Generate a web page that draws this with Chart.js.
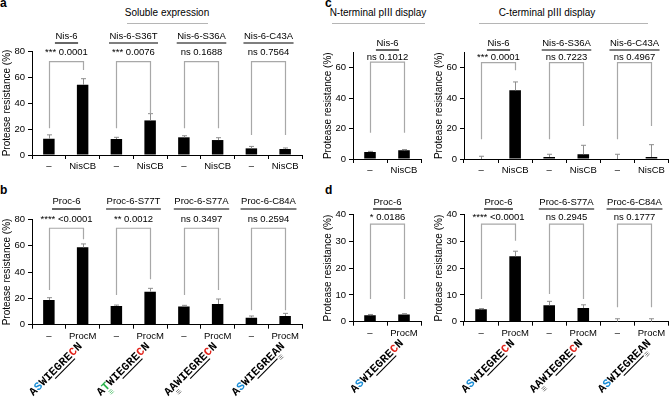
<!DOCTYPE html>
<html><head><meta charset="utf-8">
<script src="https://cdn.jsdelivr.net/npm/chart.js@4"></script>
<style>
html,body{margin:0;padding:0;background:#fff;}
#wrap{position:relative;width:669px;height:397px;overflow:hidden;font-family:"Liberation Sans",Arial,sans-serif;}
canvas{position:absolute;}
.t{position:absolute;white-space:nowrap;color:#000;}
.L{font-weight:bold;font-size:12px;line-height:12px;}
.h{font-size:10px;line-height:10px;text-align:center;width:200px;}
.hl{position:absolute;height:1.5px;background:#b5b5b5;}
</style></head><body>
<div id="wrap">
  <div class="t L" style="left:0px;top:-3px;">a</div>
  <div class="t L" style="left:0px;top:184px;">b</div>
  <div class="t L" style="left:325px;top:-3px;">c</div>
  <div class="t L" style="left:325px;top:184px;">d</div>
  <div class="t h" style="left:67px;top:8px;">Soluble expression</div>
  <div class="hl" style="left:127px;top:22.5px;width:81px;"></div>
  <div class="t h" style="left:278px;top:8px;">N-terminal pIII display</div>
  <div class="hl" style="left:332px;top:22.5px;width:93px;"></div>
  <div class="t h" style="left:447px;top:8px;">C-terminal pIII display</div>
  <div class="hl" style="left:479px;top:22.5px;width:169px;"></div>
  <canvas id="cA" width="312" height="190" style="left:0px;top:0px;"></canvas>
  <canvas id="cB" width="312" height="207" style="left:0px;top:190px;"></canvas>
  <canvas id="cCL" width="104" height="190" style="left:321px;top:0px;"></canvas>
  <canvas id="cCR" width="237" height="190" style="left:432px;top:0px;"></canvas>
  <canvas id="cDL" width="104" height="207" style="left:321px;top:190px;"></canvas>
  <canvas id="cDR" width="237" height="207" style="left:432px;top:190px;"></canvas>
</div>
<script>
// ---------- data ----------
const catsA = ['–','NisCB','–','NisCB','–','NisCB','–','NisCB'];
const valsA = [12.5, 54, 12.3, 26.6, 13.6, 11.5, 5.1, 4.6];
const sdA   = [3, 4.7, 1.3, 5.2, 1.2, 1.8, 1.5, 0.8];
const namesA = ['Nis-6','Nis-6-S36T','Nis-6-S36A','Nis-6-C43A'];
const pvalsA = ['*** 0.0001','*** 0.0076','ns 0.1688','ns 0.7564'];
const bracketTopA = 71.8;
const legsA = [[20.5,65.4],[20.5,32],[20.5,20.5],[15.4,15.4]];

const catsB = ['–','ProcM','–','ProcM','–','ProcM','–','ProcM'];
const valsB = [18.7, 58.7, 14.2, 25.1, 13.9, 15.7, 5.3, 6.6];
const sdB   = [1.8, 2.6, 0.7, 2.5, 0.8, 3.8, 1.3, 2.0];
const namesB = ['Proc-6','Proc-6-S77T','Proc-6-S77A','Proc-6-C84A'];
const pvalsB = ['**** <0.0001','** 0.0012','ns 0.3497','ns 0.2594'];
const bracketTopB = 73.2;
const legsB = [[26.3,64.8],[22.5,34.5],[22.5,26.3],[11,11]];
const seqsB = ['ASWIEGRECN','ATWIEGRECN','AAWIEGRECN','ASWIEGREAN'];

const catsCL = ['–','NisCB'];
const valsCL = [4.6, 5.7];
const sdCL   = [0.4, 0.5];
const namesCL = ['Nis-6'];
const pvalsCL = ['ns 0.1012'];
const bracketTopCL = 63.6;
const legsCL = [[17.3,17.3]];

const catsCR = ['–','NisCB','–','NisCB','–','NisCB'];
const valsCR = [0, 45.1, 1.3, 3.1, 0, 1.3];
const sdCR   = [1.8, 5.5, 1.8, 5.9, 3.1, 8.1];
const namesCR = ['Nis-6','Nis-6-S36A','Nis-6-C43A'];
const pvalsCR = ['*** 0.0001','ns 0.7223','ns 0.4967'];
const bracketTopCR = 63.3;
const legsCR = [[12.9,58.2],[12.9,21.7],[12.9,21.7]];

const catsDL = ['–','ProcM'];
const valsDL = [2.4, 2.7];
const sdDL   = [0.3, 0.3];
const namesDL = ['Proc-6'];
const pvalsDL = ['* 0.0186'];
const bracketTopDL = 36.4;
const legsDL = [[8.5,8.5]];
const seqsDL = ['ASWIEGRECN'];

const catsDR = ['–','ProcM','–','ProcM','–','ProcM'];
const valsDR = [4.6, 24.4, 6.1, 5.1, 0, 0];
const sdDR   = [0.3, 1.9, 1.5, 1.2, 1.1, 1.1];
const namesDR = ['Proc-6','Proc-6-S77A','Proc-6-C84A'];
const pvalsDR = ['**** <0.0001','ns 0.2945','ns 0.1777'];
const bracketTopDR = 36.4;
const legsDR = [[8.5,30.2],[10.3,8.5],[5.4,5.4]];
const seqsDR = ['ASWIEGRECN','AAWIEGRECN','ASWIEGREAN'];

const ticksAB = [0,20,40,60,80];
const ticksC = [0,20,40,60];
const ticksD = [0,10,20,30,40];
const WT = 'ASWIEGRECN';
const yTitle = 'Protease resistance (%)';

// ---------- drawing ----------
const FONT = '"Liberation Sans", Arial, sans-serif';
Chart.defaults.font.family = FONT;
Chart.defaults.color = '#000';

const annot = {
  id: 'annot',
  afterDatasetsDraw(chart, args, o) {
    const ctx = chart.ctx, y = chart.scales.y, ca = chart.chartArea;
    const meta = chart.getDatasetMeta(0);
    const data = chart.data.datasets[0].data;
    ctx.save();
    // error bars
    ctx.strokeStyle = '#8e8e8e'; ctx.lineWidth = 1;
    o.sd.forEach((s, i) => {
      const cx = Math.round(meta.data[i].x) + 0.5;
      const y0 = y.getPixelForValue(data[i]), y1 = y.getPixelForValue(data[i] + s);
      ctx.beginPath(); ctx.moveTo(cx, y0); ctx.lineTo(cx, y1);
      ctx.moveTo(cx - 2.5, y1); ctx.lineTo(cx + 2.5, y1); ctx.stroke();
    });
    // brackets and labels
    o.names.forEach((name, p) => {
      const xl = Math.round(meta.data[2*p].x) + 0.5, xr = Math.round(meta.data[2*p+1].x) + 0.5;
      const yt = y.getPixelForValue(o.top);
      const [lo, ro] = o.legs[p];
      ctx.strokeStyle = '#a8a8a8'; ctx.lineWidth = 1.2;
      ctx.beginPath();
      ctx.moveTo(xl, y.getPixelForValue(lo)); ctx.lineTo(xl, yt); ctx.lineTo(xr, yt); ctx.lineTo(xr, y.getPixelForValue(ro));
      ctx.stroke();
      const cx = (xl + xr) / 2;
      ctx.fillStyle = '#000'; ctx.font = '9.5px ' + FONT;
      ctx.textAlign = 'center'; ctx.textBaseline = 'middle';
      ctx.fillText(o.pvals[p], cx, ca.top + o.pDy);
      ctx.fillText(name, cx, ca.top + o.nameDy);
      const w = ctx.measureText(name).width + 1;
      ctx.strokeStyle = '#000'; ctx.lineWidth = 1.2;
      ctx.beginPath(); ctx.moveTo(cx - w/2, ca.top + o.ulDy); ctx.lineTo(cx + w/2, ca.top + o.ulDy); ctx.stroke();
    });
    // sequences
    if (o.seqs) {
      o.seqs.forEach((seq, p) => {
        const xl = meta.data[2*p].x, xr = meta.data[2*p+1].x;
        const ex = (xl + xr) / 2 + 17, ey = ca.bottom + 22;
        ctx.save(); ctx.translate(ex, ey); ctx.rotate(-Math.PI/4);
        ctx.font = 'bold 11.5px "Liberation Mono", "DejaVu Sans Mono", monospace';
        ctx.textAlign = 'center'; ctx.textBaseline = 'alphabetic';
        const cw = 7.0;
        const x0 = -cw * seq.length;
        for (let i = 0; i < seq.length; i++) {
          const ch = seq[i];
          let col = '#000';
          if (ch === 'S') col = '#1c8ed6'; else if (ch === 'C') col = '#e2231a'; else if (ch === 'T') col = '#2bb24c';
          ctx.fillStyle = col; ctx.fillText(ch, x0 + (i + 0.5)*cw, 0);
          if (ch !== WT[i]) {
            ctx.strokeStyle = col === '#000' ? '#444' : col; ctx.lineWidth = 0.7;
            for (let k = 0; k < 3; k++) {
              ctx.beginPath(); ctx.moveTo(x0 + i*cw + 1.5, 2.5 + k*1.7); ctx.lineTo(x0 + (i+1)*cw - 1.5, 2.5 + k*1.7); ctx.stroke();
            }
          }
        }
        ctx.strokeStyle = '#000'; ctx.lineWidth = 1.1;
        ctx.beginPath(); ctx.moveTo(x0 + 4*cw, 3); ctx.lineTo(x0 + 8*cw, 3); ctx.stroke();
        ctx.restore();
      });
    }
    ctx.restore();
  }
};

function makeChart(id, cats, vals, yMax, yTicks, padTop, padRight, xHeight, ann) {
  return new Chart(document.getElementById(id), {
    type: 'bar',
    data: { labels: cats, datasets: [{ data: vals, backgroundColor: '#000', borderWidth: 0, barPercentage: 0.34, categoryPercentage: 1 }] },
    options: {
      responsive: false, animation: false, devicePixelRatio: 1,
      layout: { padding: { left: 0, top: padTop, right: padRight, bottom: 0 } },
      plugins: { legend: { display: false }, tooltip: { enabled: false }, annot: ann },
      scales: {
        x: {
          grid: { offset: true, drawOnChartArea: false, color: '#000', tickLength: 4, lineWidth: 1 },
          border: { color: '#000', width: 1 },
          ticks: { font: { size: 9.5 }, color: '#000', padding: 2, maxRotation: 0, autoSkip: false },
          afterFit(s) { s.height = xHeight; }
        },
        y: {
          min: 0, max: yMax,
          grid: { drawOnChartArea: false, color: '#000', tickLength: 4 },
          border: { color: '#000', width: 1 },
          ticks: { font: { size: 9.5 }, color: '#000', padding: 3 },
          afterBuildTicks(s) { s.ticks = yTicks.map(v => ({ value: v })); },
          title: { display: true, text: yTitle, font: { size: 10 }, color: '#000', padding: { top: 1, bottom: 0 } },
          afterFit(s) { s.width = 32; }
        }
      }
    },
    plugins: [annot]
  });
}

makeChart('cA', catsA, valsA, 80, ticksAB, 51, 10, 35,
  { sd: sdA, names: namesA, pvals: pvalsA, top: bracketTopA, legs: legsA, pDy: 1, nameDy: -15, ulDy: -8 });
makeChart('cB', catsB, valsB, 80, ticksAB, 29.3, 10, 72.3,
  { sd: sdB, names: namesB, pvals: pvalsB, top: bracketTopB, legs: legsB, pDy: 0, nameDy: -17.6, ulDy: -10.3, seqs: seqsB });
makeChart('cCL', catsCL, valsCL, 70, ticksC, 52.4, 4, 31,
  { sd: sdCL, names: namesCL, pvals: pvalsCL, top: bracketTopCL, legs: legsCL, pDy: 4.9, nameDy: -9.1, ulDy: -2.4 });
makeChart('cCR', catsCR, valsCR, 70, ticksC, 52.4, 0.5, 31,
  { sd: sdCR, names: namesCR, pvals: pvalsCR, top: bracketTopCR, legs: legsCR, pDy: 4.9, nameDy: -9.1, ulDy: -2.4 });
makeChart('cDL', catsDL, valsDL, 40, ticksD, 24.5, 4, 75.3,
  { sd: sdDL, names: namesDL, pvals: pvalsDL, top: bracketTopDL, legs: legsDL, pDy: 2.8, nameDy: -11.8, ulDy: -5.5, seqs: seqsDL });
makeChart('cDR', catsDR, valsDR, 40, ticksD, 24.5, 0.5, 75.3,
  { sd: sdDR, names: namesDR, pvals: pvalsDR, top: bracketTopDR, legs: legsDR, pDy: 2.8, nameDy: -11.8, ulDy: -5.5, seqs: seqsDR });
</script>
</body></html>
